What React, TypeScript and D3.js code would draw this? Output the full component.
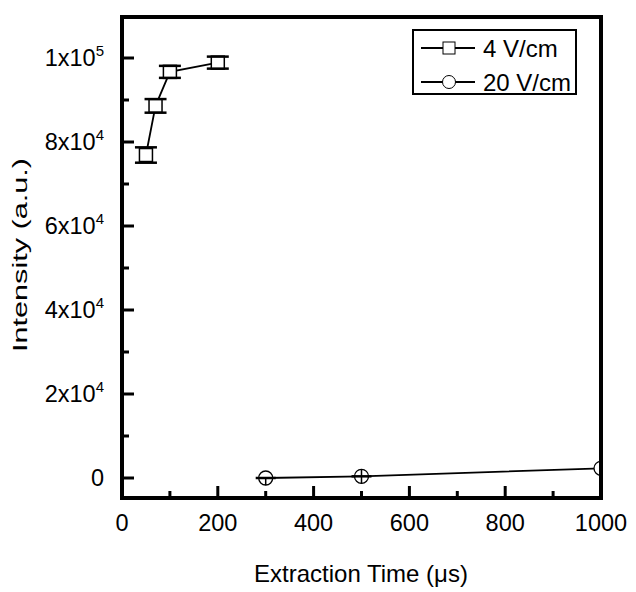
import React from "react";
import * as d3 from "d3";

const sqX = [50, 70, 100, 200];
const sqY = [76900, 88600, 96700, 98900];
const sqErr = [1830, 1620, 1430, 1430];

const ciX = [300, 500, 1000];
const ciY = [0, 400, 2300];
const ciErrLow = [1700, 1700, 0];
const ciErrHigh = [0, 1700, 0];

const xMajor = [0, 200, 400, 600, 800, 1000];
const xMinor = [100, 300, 500, 700, 900];
const yMajor = [0, 20000, 40000, 60000, 80000, 100000];
const yMinor = [10000, 30000, 50000, 70000, 90000];
const yTickMant = ["0", "2x10", "4x10", "6x10", "8x10", "1x10"];
const yTickExp = ["", "4", "4", "4", "4", "5"];

const legendLabels = ["4 V/cm", "20 V/cm"];
const xLabel = "Extraction Time (\u03bcs)";
const yLabel = "Intensity (a.u.)";

const W = 636, H = 592;
const L = 122, R = 601, T = 17, B = 498;
const FONT = "'Liberation Sans', Arial, sans-serif";

export default function App() {
  const x = d3.scaleLinear().domain([0, 1000]).range([L, R]);
  const y = d3.scaleLinear().domain([0, 100000]).range([478, 58]);
  const sqLine = d3.line<number>().x((_, i) => x(sqX[i])).y((d) => y(d));
  const ciLine = d3.line<number>().x((_, i) => x(ciX[i])).y((d) => y(d));
  const sq = 13;
  return (
    <svg width={W} height={H} style={{ position: "absolute", left: 0, top: 0, background: "#fff" }}>
      <defs>
        <clipPath id="plotclip">
          <rect x={L} y={T} width={R - L} height={B - T} />
        </clipPath>
      </defs>
      <rect x={0} y={0} width={W} height={H} fill="#fff" />
      {/* ticks */}
      {xMajor.map((v) => (
        <line key={"xM" + v} x1={x(v)} x2={x(v)} y1={B} y2={B - 12} stroke="#000" strokeWidth={3} />
      ))}
      {xMinor.map((v) => (
        <line key={"xm" + v} x1={x(v)} x2={x(v)} y1={B} y2={B - 7} stroke="#000" strokeWidth={3} />
      ))}
      {yMajor.map((v) => (
        <line key={"yM" + v} x1={L} x2={L + 12} y1={y(v)} y2={y(v)} stroke="#000" strokeWidth={3} />
      ))}
      {yMinor.map((v) => (
        <line key={"ym" + v} x1={L} x2={L + 7} y1={y(v)} y2={y(v)} stroke="#000" strokeWidth={3} />
      ))}
      {/* tick labels */}
      {xMajor.map((v) => (
        <text key={"xl" + v} x={x(v)} y={531} textAnchor="middle" fontFamily={FONT} fontSize={23.5} fill="#000">
          {v}
        </text>
      ))}
      {yMajor.map((v, i) => (
        <text key={"yl" + v} x={104} y={y(v) + 8} textAnchor="end" fontFamily={FONT} fontSize={23.5} fill="#000">
          {yTickMant[i]}
          {yTickExp[i] && (
            <tspan fontSize={15} dy={-10}>
              {yTickExp[i]}
            </tspan>
          )}
        </text>
      ))}
      {/* data */}
      <g clipPath="url(#plotclip)">
        <path d={sqLine(sqY) || ""} fill="none" stroke="#000" strokeWidth={1.8} />
        {sqY.map((v, i) => (
          <g key={"sq" + i}>
            <line x1={x(sqX[i])} x2={x(sqX[i])} y1={y(v - sqErr[i])} y2={y(v + sqErr[i])} stroke="#000" strokeWidth={1.5} />
            <rect x={x(sqX[i]) - sq / 2} y={y(v) - sq / 2} width={sq} height={sq} fill="#fff" stroke="#000" strokeWidth={1.5} />
            <line x1={x(sqX[i]) - 11} x2={x(sqX[i]) + 11} y1={y(v + sqErr[i])} y2={y(v + sqErr[i])} stroke="#000" strokeWidth={2.5} />
            <line x1={x(sqX[i]) - 11} x2={x(sqX[i]) + 11} y1={y(v - sqErr[i])} y2={y(v - sqErr[i])} stroke="#000" strokeWidth={2.5} />
          </g>
        ))}
        <path d={ciLine(ciY) || ""} fill="none" stroke="#000" strokeWidth={1.8} />
        {ciY.map((v, i) => (
          <g key={"ci" + i}>
            <circle cx={x(ciX[i])} cy={y(v)} r={7} fill="#fff" stroke="#000" strokeWidth={1.3} />
            <line x1={x(ciX[i])} x2={x(ciX[i])} y1={y(v - ciErrLow[i])} y2={y(v + ciErrHigh[i])} stroke="#000" strokeWidth={1.5} />
            {(ciErrLow[i] > 0 || ciErrHigh[i] > 0) && (
              <line x1={x(ciX[i]) - 10} x2={x(ciX[i]) + 10} y1={y(v)} y2={y(v)} stroke="#000" strokeWidth={2.5} />
            )}
          </g>
        ))}
      </g>
      {/* frame */}
      <rect x={L} y={T} width={R - L} height={B - T} fill="none" stroke="#000" strokeWidth={4} />
      {/* legend */}
      <rect x={413} y={30} width={163} height={64} fill="#fff" stroke="#000" strokeWidth={2} />
      {legendLabels.map((lab, i) => {
        const ly = 48 + i * 34;
        return (
          <g key={"lg" + i}>
            <line x1={421} x2={475} y1={ly} y2={ly} stroke="#000" strokeWidth={2} />
            {i === 0 ? (
              <rect x={443} y={ly - 6} width={12} height={12} fill="#fff" stroke="#000" strokeWidth={1} />
            ) : (
              <circle cx={449} cy={ly} r={6.5} fill="#fff" stroke="#000" strokeWidth={1} />
            )}
            <text x={483} y={ly + 8.5} fontFamily={FONT} fontSize={24} fill="#000">
              {lab}
            </text>
          </g>
        );
      })}
      {/* axis labels */}
      <text x={361} y={582} textAnchor="middle" fontFamily={FONT} fontSize={24} fill="#000">
        {xLabel}
      </text>
      <text
        transform={`translate(27,255) rotate(-90)`}
        textAnchor="middle"
        fontFamily={FONT}
        fontSize={21}
        textLength={194}
        lengthAdjust="spacingAndGlyphs"
        fill="#000"
      >
        {yLabel}
      </text>
    </svg>
  );
}
